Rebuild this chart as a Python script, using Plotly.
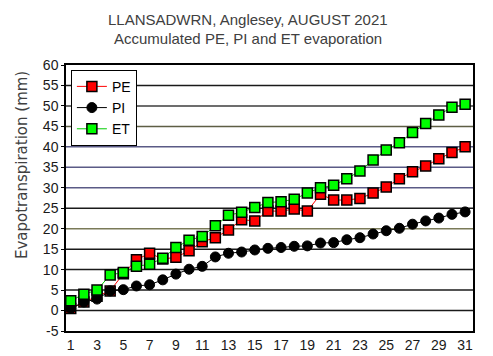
import plotly.graph_objects as go

days = list(range(1, 32))
pe = [0.5, 2.1, 3.5, 4.8, 9.0, 12.4, 14.0, 12.6, 13.0, 14.6, 16.8, 17.8, 19.7, 22.2, 21.9,
      24.3, 24.3, 24.8, 24.3, 28.4, 27.0, 27.0, 27.4, 28.7, 30.2, 32.2, 33.9, 35.3, 37.1, 38.6, 40.0]
pi = [0.5, 2.1, 2.8, 4.8, 5.1, 6.0, 6.3, 7.5, 8.9, 10.1, 10.8, 13.1, 14.0, 14.3, 14.8,
      15.2, 15.4, 15.7, 15.8, 16.5, 16.6, 17.3, 17.8, 18.7, 19.5, 20.1, 21.1, 21.9, 22.6, 23.5, 24.1]
et = [2.4, 4.0, 5.0, 8.7, 9.3, 10.8, 11.3, 12.8, 15.4, 17.2, 18.1, 20.7, 23.3, 24.0, 25.2,
      26.4, 26.6, 27.2, 28.7, 30.0, 30.6, 32.2, 34.1, 36.8, 39.2, 41.0, 43.5, 45.7, 47.8, 49.7, 50.4]

x_ticks = list(range(1, 32, 2))
y_ticks = list(range(-5, 61, 5))
title_lines = ["LLANSADWRN, Anglesey, AUGUST 2021", "Accumulated PE, PI and ET evaporation"]
y_title = "Evapotranspiration (mm)"
grid_colors = {55: "#1a1a1a", 50: "#3c3c3c", 45: "#5e5e44", 40: "#5a5a86", 35: "#5a5a86",
               30: "#5a5a86", 25: "#1a1a1a", 20: "#7a7a58", 15: "#1a1a1a", 10: "#1a1a1a",
               5: "#1a1a1a", 0: "#1a1a1a"}

font = "Liberation Sans, Arial, sans-serif"

fig = go.Figure()
fig.add_trace(go.Scatter(x=days, y=pe, name="PE", mode="lines+markers",
                         line=dict(color="#ff0000", width=1),
                         marker=dict(symbol="square", size=10, color="#ff0000",
                                     line=dict(color="#000000", width=1.5))))
fig.add_trace(go.Scatter(x=days, y=pi, name="PI", mode="lines+markers",
                         line=dict(color="#000000", width=1),
                         marker=dict(symbol="circle", size=10, color="#000000",
                                     line=dict(color="#000000", width=1))))
fig.add_trace(go.Scatter(x=days, y=et, name="ET", mode="lines+markers",
                         line=dict(color="#00cc00", width=1),
                         marker=dict(symbol="square", size=10, color="#00ff00",
                                     line=dict(color="#000000", width=1.5))))

shapes = []
for v in y_ticks:
    if v in grid_colors:
        shapes.append(dict(type="line", xref="paper", yref="y", x0=0, x1=1, y0=v, y1=v,
                           line=dict(color=grid_colors[v], width=1.5), layer="below"))

annotations = []
for i, t in enumerate(title_lines):
    annotations.append(dict(text=t, xref="paper", yref="paper", x=0.447, xanchor="center",
                            y=1.0, yanchor="middle", showarrow=False,
                            yshift=65 - 19 - 19 * i,
                            font=dict(family=font, size=15, color="#404040")))
annotations.append(dict(text=y_title, xref="paper", yref="paper", x=-0.108, xanchor="center",
                        y=0.624, yanchor="middle", showarrow=False, textangle=-90,
                        font=dict(family="DejaVu Sans, sans-serif", size=15, color="#404040")))

fig.update_layout(
    template="none",
    width=493, height=356,
    margin=dict(l=66, r=20, t=65, b=25, pad=0),
    paper_bgcolor="white", plot_bgcolor="white",
    font=dict(family=font, size=14, color="#1a1a1a"),
    shapes=shapes,
    annotations=annotations,
    showlegend=True,
    legend=dict(x=0.012, y=0.982, xanchor="left", yanchor="top",
                bgcolor="white", bordercolor="#000000", borderwidth=1,
                font=dict(family=font, size=14, color="#000000"),
                itemwidth=30, tracegroupgap=0),
    xaxis=dict(range=[0.64, 31.6], tickvals=x_ticks, ticktext=[str(t) for t in x_ticks],
               showgrid=False, zeroline=False, showline=True, linecolor="#000000",
               linewidth=1.5, mirror=True, ticks="", automargin=False,
               tickfont=dict(size=14, color="#1a1a1a")),
    yaxis=dict(range=[-5, 60], tickvals=y_ticks, ticktext=[str(t) for t in y_ticks],
               showgrid=False, zeroline=False, showline=True, linecolor="#000000",
               linewidth=1.5, mirror=True, ticks="outside", ticklen=3, tickcolor="#000000",
               automargin=False, tickfont=dict(size=14, color="#1a1a1a")),
)

fig.write_html("out.html", config={"displayModeBar": False},
               post_script="document.body.style.margin='0';")
